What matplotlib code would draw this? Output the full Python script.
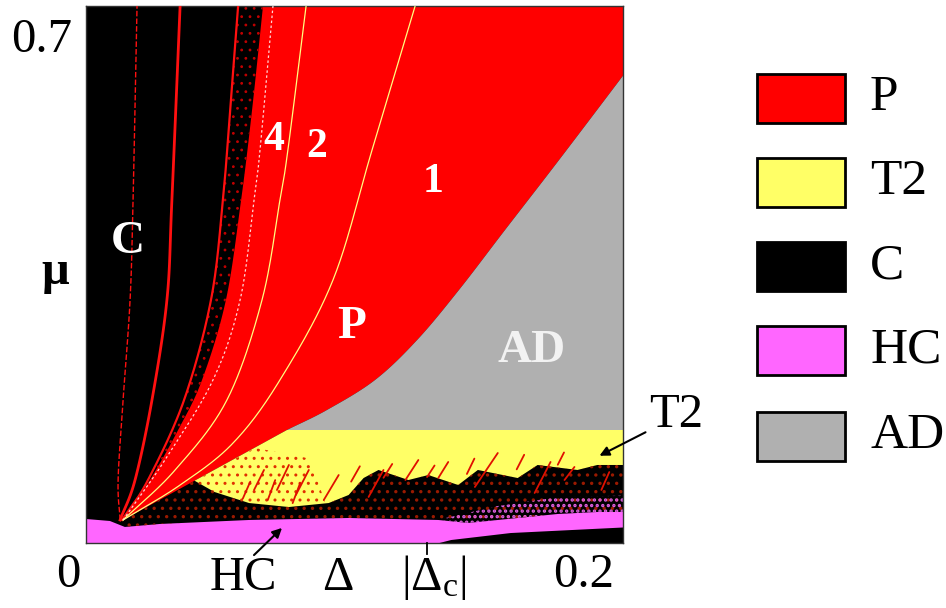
import matplotlib
matplotlib.use('Agg')
import matplotlib.pyplot as plt
from matplotlib.patches import Rectangle, FancyArrowPatch
import numpy as np

plt.rcParams['font.family'] = ['Liberation Serif', 'DejaVu Serif']
plt.rcParams['mathtext.fontset'] = 'custom'
plt.rcParams['mathtext.rm'] = 'Liberation Serif'
plt.rcParams['mathtext.it'] = 'Liberation Serif:italic'

# ---------------- data ----------------
DELTA_MAX = 0.2157
MU_MAX = 0.7
DELTA_C = 0.137

phases = ['P', 'T2', 'C', 'HC', 'AD']
phase_colors = ['#FF0000', '#FFFF66', '#000000', '#FF66FF', '#B0B0B0']

# chaotic / periodic boundary (delta, mu)
cp_delta = [0.0149, 0.0257, 0.0370, 0.0466, 0.0562, 0.0623, 0.0667, 0.0711]
cp_mu = [0.0300, 0.0821, 0.1473, 0.2125, 0.3168, 0.4471, 0.5644, 0.7000]

# periodic windows (red lines) inside the chaotic region
cl1_delta = [0.0137, 0.0129, 0.0149, 0.0177, 0.0189, 0.0205]
cl1_mu = [0.030, 0.0821, 0.1864, 0.3168, 0.4471, 0.700]
cl2_delta = [0.0137, 0.0197, 0.0265, 0.0325, 0.0345, 0.0378]
cl2_mu = [0.030, 0.0821, 0.1864, 0.3168, 0.4471, 0.700]
cl3_delta = [0.0145, 0.0249, 0.0394, 0.0502, 0.0550, 0.0582, 0.0611]
cl3_mu = [0.030, 0.0821, 0.1864, 0.3168, 0.4471, 0.5774, 0.700]

# period-doubling lines inside P (1|2, 2|4, 4|...)
pd1_delta = [0.0149, 0.0378, 0.0591, 0.0779, 0.0992, 0.1149, 0.1322]
pd1_mu = [0.030, 0.0756, 0.1304, 0.2125, 0.3428, 0.5123, 0.700]
pd2_delta = [0.0149, 0.0358, 0.0566, 0.0707, 0.0779, 0.0811, 0.0884]
pd2_mu = [0.030, 0.0952, 0.1864, 0.3168, 0.4471, 0.5123, 0.700]
pd4_delta = [0.0149, 0.0317, 0.0510, 0.0619, 0.0675, 0.0699, 0.0751]
pd4_mu = [0.030, 0.1082, 0.2125, 0.3168, 0.4471, 0.5123, 0.700]

# lower edge of the P wedge
wedge_delta = [0.0149, 0.0807]
wedge_mu = [0.030, 0.1473]
T2_TOP = 0.1473

# P / AD boundary
ad_delta = [0.0807, 0.0968, 0.1161, 0.1330, 0.1498, 0.1683, 0.1900, 0.2153, 0.2174]
ad_mu = [0.1473, 0.1734, 0.2125, 0.2646, 0.3298, 0.4080, 0.4992, 0.6074, 0.6165]

# lower edge of T2 (right to left)
t2_low_delta = [0.2200, 0.2054, 0.1974, 0.1814, 0.1734, 0.1574, 0.1495, 0.1375,
                0.1295, 0.1175, 0.1115, 0.1055, 0.0975, 0.0815, 0.0655, 0.0516, 0.0436]
t2_low_mu = [0.1017, 0.1017, 0.0952, 0.1017, 0.0847, 0.0952, 0.0756, 0.0886,
             0.0821, 0.0952, 0.0847, 0.0626, 0.0521, 0.0469, 0.0521, 0.0665, 0.0812]
# red-speckled part of T2 (left)
t2s_delta = [0.0436, 0.0680, 0.0900, 0.0960, 0.0655, 0.0516]
t2s_mu = [0.0812, 0.1240, 0.1100, 0.0530, 0.0521, 0.0665]

# HC band
hc_top_delta = [0.0, 0.0096, 0.0156, 0.0296, 0.0655, 0.1055, 0.1415, 0.1535,
                0.1734, 0.1894, 0.2054, 0.2200]
hc_top_mu = [0.0313, 0.0287, 0.0209, 0.0248, 0.0300, 0.0326, 0.0300, 0.0261,
             0.0326, 0.0378, 0.0404, 0.0404]
hc_bot_delta = [0.2200, 0.1706, 0.1467, 0.1420, 0.0]
hc_bot_mu = [0.0209, 0.0130, 0.0039, 0.0, 0.0]
# upper edge of the HC speckle zone (right part, right to left)
hcs_delta = [0.2200, 0.1900, 0.1650, 0.1450]
hcs_mu = [0.0620, 0.0600, 0.0480, 0.0330]

# red periodic streaks inside T2 (start / end)
streak_d0 = [0.1654, 0.1866, 0.1962, 0.1335, 0.2102, 0.1195, 0.1015, 0.0895, 0.0815,
             0.0715, 0.1455, 0.1560, 0.1760, 0.1230, 0.0760, 0.0660, 0.0860, 0.1100,
             0.1920, 0.1400]
streak_m0 = [0.1173, 0.1056, 0.0991, 0.1082, 0.0925, 0.0952, 0.0886, 0.0952, 0.1017,
             0.0952, 0.1056, 0.1100, 0.1150, 0.1030, 0.0820, 0.0800, 0.0780, 0.1000,
             0.1180, 0.1010]
streak_d1 = [0.1562, 0.1802, 0.1922, 0.1283, 0.2070, 0.1135, 0.0955, 0.0843, 0.0767,
             0.0675, 0.1415, 0.1530, 0.1730, 0.1195, 0.0730, 0.0630, 0.0830, 0.1065,
             0.1895, 0.1370]
streak_m1 = [0.0730, 0.0652, 0.0821, 0.0821, 0.0691, 0.0600, 0.0560, 0.0626, 0.0691,
             0.0691, 0.0847, 0.0900, 0.0960, 0.0850, 0.0560, 0.0580, 0.0520, 0.0800,
             0.1020, 0.0860]


# ---------------- helpers ----------------
def smooth(xs, ys, n=24):
    """Catmull-Rom curve through the read points."""
    P = np.column_stack([xs, ys]).astype(float)
    P = np.vstack([2 * P[0] - P[1], P, 2 * P[-1] - P[-2]])
    t = np.linspace(0, 1, n, endpoint=False)[:, None]
    out = []
    for i in range(1, len(P) - 2):
        p0, p1, p2, p3 = P[i - 1], P[i], P[i + 1], P[i + 2]
        out.append(0.5 * (2 * p1 + (-p0 + p2) * t + (2 * p0 - 5 * p1 + 4 * p2 - p3) * t ** 2
                          + (-p0 + 3 * p1 - 3 * p2 + p3) * t ** 3))
    out.append(P[-2][None, :])
    c = np.vstack(out)
    return c[:, 0], c[:, 1]


W, H = 946, 608


def fx(p):
    return p / W


def fy(p):
    return 1 - p / H


# ---------------- figure ----------------
fig = plt.figure(figsize=(W / 100, H / 100), dpi=100)
fig.patch.set_facecolor('white')
ax = fig.add_axes([86 / W, 1 - 543 / H, 537 / W, 537 / H])
ax.set_xlim(0, DELTA_MAX)
ax.set_ylim(0, MU_MAX)
ax.set_facecolor(phase_colors[2])
ax.set_xticks([])
ax.set_yticks([])
for s in ax.spines.values():
    s.set_color('#333333')
    s.set_linewidth(1.0)

cpx, cpy = smooth(cp_delta, cp_mu)
adx, ady = smooth(ad_delta, ad_mu)

# P region
px = np.concatenate([cpx, [0.23, 0.23], adx[::-1], wedge_delta[::-1]])
py = np.concatenate([cpy, [MU_MAX, ad_mu[-1]], ady[::-1], wedge_mu[::-1]])
ax.fill(px, py, color=phase_colors[0], lw=0, zorder=2)

# AD region
ax.fill(np.concatenate([adx, [0.23, 0.23]]),
        np.concatenate([ady, [ad_mu[-1], T2_TOP]]),
        color=phase_colors[4], lw=0, zorder=2)

# T2 region
ax.fill(np.concatenate([[wedge_delta[1], 0.23], t2_low_delta]),
        np.concatenate([[T2_TOP, T2_TOP], t2_low_mu]),
        color=phase_colors[1], lw=0, zorder=2)

plt.rcParams['hatch.linewidth'] = 1.0
ax.fill(t2s_delta, t2s_mu, facecolor='none', edgecolor='#E03000', hatch='..',
        lw=0, zorder=2.2)

# speckled band between T2 and HC
plt.rcParams['hatch.linewidth'] = 1.2
ax.fill(np.concatenate([t2_low_delta, [wedge_delta[0]], hc_top_delta[2:]]),
        np.concatenate([t2_low_mu, [wedge_mu[0]], hc_top_mu[2:]]),
        facecolor='none', edgecolor='#9A1A00', hatch='..', lw=0, zorder=2.2)

# HC region
ax.fill(np.concatenate([hc_top_delta, hc_bot_delta]),
        np.concatenate([hc_top_mu, hc_bot_mu]),
        color=phase_colors[3], lw=0, zorder=2)
plt.rcParams['hatch.linewidth'] = 1.6
ax.fill(np.concatenate([hcs_delta, hc_top_delta[6:]]),
        np.concatenate([hcs_mu, hc_top_mu[6:]]),
        facecolor='none', edgecolor='#E060E0', hatch='...', lw=0, zorder=2.3)

# speckled mixed zone next to the C/P boundary
plt.rcParams['hatch.linewidth'] = 0.8
c3x, c3y = smooth(cl3_delta, cl3_mu)
ax.fill(np.concatenate([c3x, cpx[::-1]]), np.concatenate([c3y, cpy[::-1]]),
        facecolor='none', edgecolor='#C00000', hatch='..', lw=0, zorder=2.5)

# red lines in C
for xs, ys, lw, ls in [(cl1_delta, cl1_mu, 1.0, (0, (4, 1.5))),
                       (cl2_delta, cl2_mu, 2.0, '-'),
                       (cl3_delta, cl3_mu, 1.6, '-')]:
    a, b = smooth(xs, ys)
    ax.plot(a, b, color='#FF1010', lw=lw, ls=ls, zorder=3)

# period-doubling lines in P
for xs, ys, col, ls in [(pd1_delta, pd1_mu, '#FFFF80', '-'),
                        (pd2_delta, pd2_mu, '#FFFF80', '-'),
                        (pd4_delta, pd4_mu, '#FFD8D8', (0, (2, 2)))]:
    a, b = smooth(xs, ys)
    ax.plot(a, b, color=col, lw=0.9, ls=ls, zorder=3)

# streaks in T2
for a, b, c, d in zip(streak_d0, streak_m0, streak_d1, streak_m1):
    ax.plot([a, c], [b, d], color='#E01000', lw=1.3, zorder=3, solid_capstyle='round')

# |Delta_c| tick
ax.plot([DELTA_C, DELTA_C], [0, -0.0145], color='black', lw=1.3, clip_on=False, zorder=5)

# labels in the plot
bold_white = dict(color='white', fontweight='bold', ha='center', va='center')
fig.text(fx(128), fy(242), 'C', fontsize=34, **bold_white)
fig.text(fx(274), fy(140), '4', fontsize=30, **bold_white)
fig.text(fx(317), fy(147), '2', fontsize=30, **bold_white)
fig.text(fx(433), fy(182), '1', fontsize=30, **bold_white)
fig.text(fx(352), fy(327), 'P', fontsize=34, **bold_white)
fig.text(fx(532), fy(351), 'AD', fontsize=34, color='#F2F2F2', fontweight='bold',
         ha='center', va='center')

# axis texts
fs = 35
fig.text(fx(42), fy(40), '0.7', fontsize=fs, ha='center', va='center')
fig.text(fx(55), fy(272), 'μ', fontsize=fs, fontweight='bold', ha='center', va='center')
fig.text(fx(68), fy(575), '0', fontsize=fs, ha='center', va='center')
fig.text(fx(584), fy(575), '0.2', fontsize=fs, ha='center', va='center')
fig.text(fx(243), fy(578), 'HC', fontsize=fs, ha='center', va='center')
fig.text(fx(338), fy(578), 'Δ', fontsize=fs, ha='center', va='center')
fig.text(fx(434), fy(578), r'$\mathrm{|\Delta_c|}$', fontsize=fs, ha='center', va='center')
fig.text(fx(676), fy(415), 'T2', fontsize=fs, ha='center', va='center')

# arrows
for tail, head in [((252, 557), (284, 526)), ((648, 431), (597, 457))]:
    fig.add_artist(FancyArrowPatch((fx(tail[0]), fy(tail[1])), (fx(head[0]), fy(head[1])),
                                   transform=fig.transFigure, arrowstyle='-|>',
                                   mutation_scale=14, color='black', lw=1.5))

# legend
rect_tops = [74, 158, 242, 326, 412]
for name, col, top in zip(phases, phase_colors, rect_tops):
    fig.add_artist(Rectangle((fx(757), fy(top + 49)), 88 / W, 49 / H,
                             transform=fig.transFigure, facecolor=col,
                             edgecolor='black', lw=2))
    fig.text(fx(870), fy(top + 24), name, fontsize=37, ha='left', va='center')

fig.savefig('out.png', dpi=100)
